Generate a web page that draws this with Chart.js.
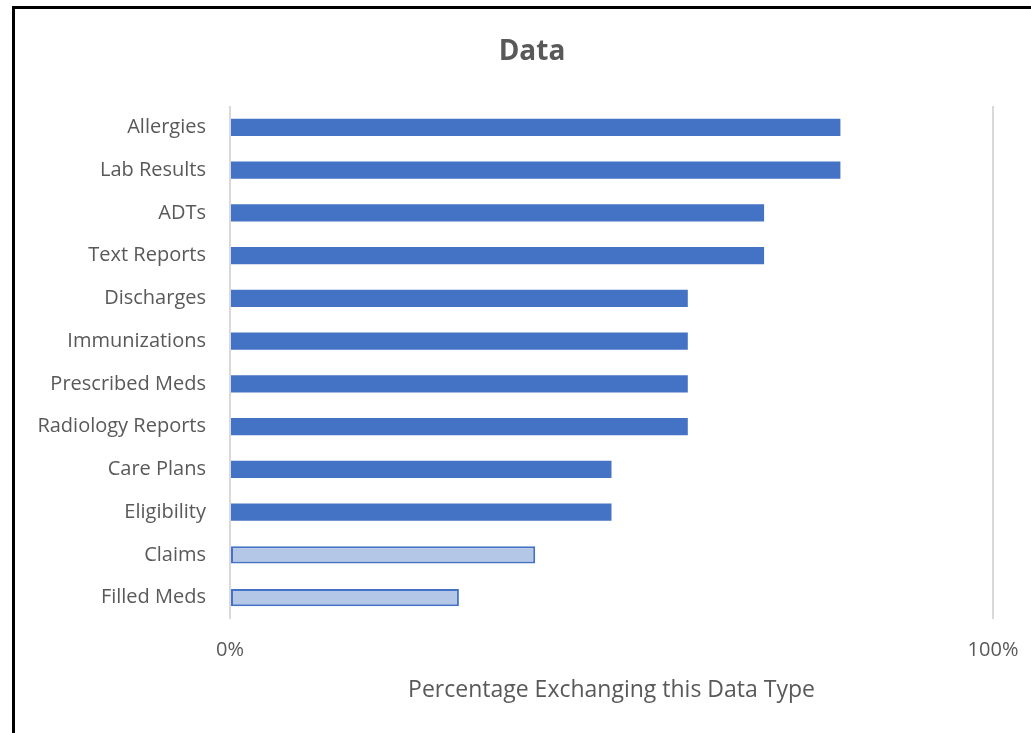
<!DOCTYPE html>
<html>
<head>
<meta charset="utf-8">
<script src="https://cdn.jsdelivr.net/npm/chart.js@4"></script>
<style>
  html, body { margin: 0; padding: 0; background: #fff; overflow: hidden; }
  #wrap { position: relative; width: 1031px; height: 733px; }
  #frame { position: absolute; left: 12px; top: 6px; width: 1040px; height: 760px; border: 3px solid #000; box-sizing: border-box; }
  canvas { position: absolute; left: 0; top: 0; }
</style>
</head>
<body>
<div id="wrap">
  <div id="frame"></div>
  <canvas id="chart" width="1031" height="733"></canvas>
</div>
<script>
// data
const categories = ['Allergies', 'Lab Results', 'ADTs', 'Text Reports', 'Discharges', 'Immunizations',
    'Prescribed Meds', 'Radiology Reports', 'Care Plans', 'Eligibility', 'Claims', 'Filled Meds'];
const shares = [0.80, 0.80, 0.70, 0.70, 0.60, 0.60, 0.60, 0.60, 0.50, 0.50, 0.40, 0.30];
const lightRows = ['Claims', 'Filled Meds'];  // drawn with pale fill + outline
const xTicks = [0, 1];
const chartTitle = 'Data';

const dark = '#4472c4';
const pale = '#b4c7e7';
const txt = '#595959';
const fontFam = '"Open Sans", "Noto Sans", sans-serif';

const fills = categories.map(c => lightRows.includes(c) ? pale : dark);
const borders = categories.map(c => lightRows.includes(c) ? 2 : 0);

// title centred on the outer frame rather than on the plot
const frameTitle = {
    id: 'frameTitle',
    afterDraw(chart) {
        const fr = document.getElementById('frame');
        const cx = fr.offsetLeft + fr.offsetWidth / 2;
        const ctx = chart.ctx;
        ctx.save();
        ctx.font = `bold 28px ${fontFam}`;
        ctx.fillStyle = txt;
        ctx.textAlign = 'center';
        ctx.textBaseline = 'middle';
        ctx.fillText(chartTitle, cx, 52);
        ctx.restore();
    }
};

new Chart(document.getElementById('chart'), {
    type: 'bar',
    data: {
        labels: categories,
        datasets: [{
            data: shares,
            backgroundColor: fills,
            borderColor: dark,
            borderWidth: borders,
            borderSkipped: false,
            barPercentage: 0.4,
            categoryPercentage: 1
        }]
    },
    plugins: [frameTitle],
    options: {
        indexAxis: 'y',
        responsive: false,
        animation: false,
        layout: { padding: { left: 0, right: 38, top: 106, bottom: 0 } },
        plugins: {
            legend: { display: false },
            tooltip: { enabled: false },
            title: { display: false }
        },
        scales: {
            x: {
                min: 0, max: 1,
                afterBuildTicks: s => { s.ticks = xTicks.map(v => ({ value: v })); },
                afterFit: s => { s.height = 114; s.paddingLeft = 0; s.paddingRight = 0; },
                border: { display: false },
                grid: { color: '#d9d9d9', lineWidth: 2, drawTicks: false },
                ticks: {
                    color: txt, padding: 19,
                    font: { family: fontFam, size: 20 },
                    callback: v => Math.round(v * 100) + '%'
                },
                title: {
                    display: true,
                    text: 'Percentage Exchanging this Data Type',
                    color: txt,
                    font: { family: fontFam, size: 23 },
                    padding: { top: 0, bottom: 29 }
                }
            },
            y: {
                afterFit: s => { s.width = 230; },
                border: { display: false },
                grid: { display: false, drawTicks: false },
                ticks: {
                    color: txt, padding: 24,
                    font: { family: fontFam, size: 20 }
                }
            }
        }
    }
});
</script>
</body>
</html>
